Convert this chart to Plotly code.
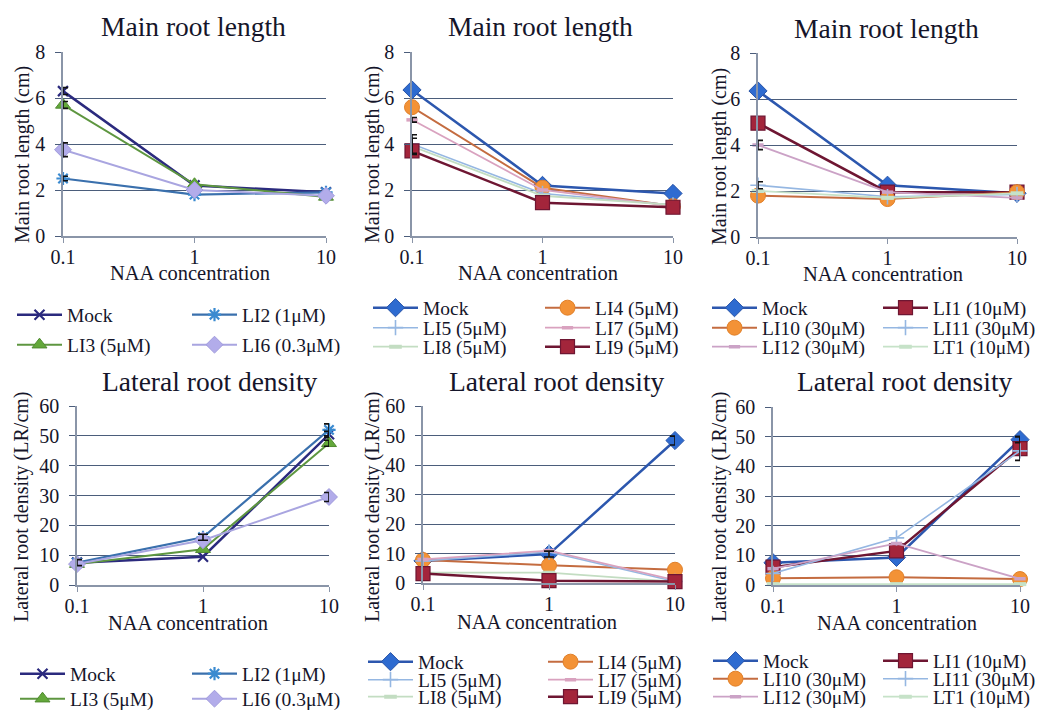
import plotly.graph_objects as go

# ---------------- data ----------------
NAA = ["0.1", "1", "10"]

SET_A = ["Mock", "LI2 (1μM)", "LI3 (5μM)", "LI6 (0.3μM)"]
SET_B = ["Mock", "LI4 (5μM)", "LI5 (5μM)", "LI7 (5μM)", "LI8 (5μM)", "LI9 (5μM)"]
SET_C = ["Mock", "LI1 (10μM)", "LI10 (30μM)", "LI11 (30μM)", "LI12 (30μM)", "LT1 (10μM)"]

# Main root length (cm) - set A
MRL_A_MOCK = [6.3, 2.2, 1.9]
MRL_A_LI2 = [2.5, 1.8, 1.9]
MRL_A_LI3 = [5.7, 2.25, 1.7]
MRL_A_LI6 = [3.75, 2.0, 1.75]
MRL_A_ERR_MOCK = [0.15, 0, 0]
MRL_A_ERR_LI2 = [0.1, 0, 0]
MRL_A_ERR_LI3 = [0.15, 0, 0]
MRL_A_ERR_LI6 = [0.3, 0, 0]

# Main root length (cm) - set B
MRL_B_MOCK = [6.35, 2.2, 1.85]
MRL_B_LI4 = [5.6, 2.1, 1.3]
MRL_B_LI5 = [4.0, 1.85, 1.35]
MRL_B_LI7 = [5.05, 2.0, 1.3]
MRL_B_LI8 = [3.9, 1.75, 1.35]
MRL_B_LI9 = [3.7, 1.45, 1.25]
MRL_B_ERR_LI5 = [0.4, 0, 0]
MRL_B_ERR_LI7 = [0.1, 0, 0]
MRL_B_ERR_LI8 = [0.35, 0, 0]

# Main root length (cm) - set C
MRL_C_MOCK = [6.35, 2.25, 1.9]
MRL_C_LI1 = [4.95, 1.95, 1.95]
MRL_C_LI10 = [1.8, 1.65, 1.95]
MRL_C_LI11 = [2.25, 1.75, 1.85]
MRL_C_LI12 = [4.0, 1.95, 1.7]
MRL_C_LT1 = [2.0, 1.7, 1.9]
MRL_C_ERR_LI11 = [0.15, 0, 0]
MRL_C_ERR_LI12 = [0.2, 0, 0]

# Lateral root density (LR/cm) - set A
LRD_A_MOCK = [7.5, 9.5, 50.5]
LRD_A_LI2 = [7.5, 16.0, 52.0]
LRD_A_LI3 = [7.0, 12.0, 47.5]
LRD_A_LI6 = [7.0, 15.0, 29.5]
LRD_A_ERR_MOCK = [0, 0, 1.0]
LRD_A_ERR_LI2 = [1.0, 1.0, 2.0]
LRD_A_ERR_LI3 = [0, 0, 1.0]
LRD_A_ERR_LI6 = [0, 0, 1.5]

# Lateral root density (LR/cm) - set B
LRD_B_MOCK = [7.5, 9.8, 48.3]
LRD_B_LI4 = [7.8, 6.0, 4.5]
LRD_B_LI5 = [7.5, 10.5, 0.5]
LRD_B_LI7 = [8.0, 11.0, 1.0]
LRD_B_LI8 = [3.5, 3.5, 0.5]
LRD_B_LI9 = [3.2, 0.8, 0.5]
LRD_B_ERR_MOCK = [0, 1.0, 1.5]

# Lateral root density (LR/cm) - set C
LRD_C_MOCK = [7.5, 9.3, 49.0]
LRD_C_LI1 = [6.0, 11.5, 46.0]
LRD_C_LI10 = [2.3, 2.6, 2.0]
LRD_C_LI11 = [3.9, 15.9, 45.2]
LRD_C_LI12 = [5.5, 14.0, 2.1]
LRD_C_LT1 = [0.3, 0.3, 0.3]
LRD_C_ERR_MOCK = [0, 0, 1.0]
LRD_C_ERR_LI1 = [0, 0, 4.0]

Y_TICKS_MRL = [0, 2, 4, 6, 8]
Y_TICKS_LRD = [0, 10, 20, 30, 40, 50, 60]

# ---------------- styles ----------------
SERIF = "Liberation Serif"
W, H = 1038, 711
GRID = "#4B5D7B"
AXIS = "#8A95A8"
TXT = "#15152A"


def fx(px):
    return px / W


def fy(py):
    return 1 - py / H


def sty(lc, lw, sym, size, fill=None, mlc=None, mlw=0):
    return dict(
        line=dict(color=lc, width=lw),
        marker=dict(symbol=sym, size=size, color=fill or lc,
                    line=dict(color=mlc or lc, width=mlw)),
    )


MOCK_A = sty("#2B2A7E", 2.5, "x-thin", 10, mlw=2.2)
LI2_S = sty("#3A70AD", 2.2, "asterisk", 11, fill="#3A8AD0", mlc="#3A8AD0", mlw=2.2)
LI3_S = sty("#5E9640", 2.0, "triangle-up", 13, fill="#63A83A", mlc="#4F8A30", mlw=1)
LI6_S = sty("#A9A5E0", 2.0, "diamond", 13, fill="#B2ACEA", mlc="#A09ADC", mlw=1)

MOCK_B = sty("#2C57AE", 2.5, "diamond", 14, fill="#2E6BD0", mlc="#2A55A8", mlw=1)
ORANGE = sty("#C46C40", 2.0, "circle", 15, fill="#F39236", mlc="#E0802A", mlw=1)
LBLUE = sty("#95B7E2", 1.6, "cross-thin", 11, mlw=1.6)
PINK = sty("#D9A2BF", 1.8, "line-ew", 8, mlw=3.5)
LGREEN = sty("#C3DDC2", 1.8, "line-ew", 9, mlw=4)
DRED = sty("#6E1632", 2.5, "square", 14, fill="#A3253B", mlc="#6E1632", mlw=1.2)
MAUVE = sty("#CBA2C6", 1.8, "line-ew", 8, mlw=3.5)
LGREEN2 = sty("#C6E2C8", 1.8, "line-ew", 9, mlw=4)

PANELS = [
    dict(k=1, names=SET_A,
         vals=[MRL_A_MOCK, MRL_A_LI2, MRL_A_LI3, MRL_A_LI6],
         errs=[MRL_A_ERR_MOCK, MRL_A_ERR_LI2, MRL_A_ERR_LI3, MRL_A_ERR_LI6],
         styles=[MOCK_A, LI2_S, LI3_S, LI6_S],
         dx=(63, 326), dy=(52, 236), yt=Y_TICKS_MRL,
         title="Main root length", tpos=(193, 27),
         ytitle="Main root length (cm)", ytpos=(22, 155), xtpos=(190, 273),
         cols=(67, 242), rows=(315, 345)),
    dict(k=2, names=SET_B,
         vals=[MRL_B_MOCK, MRL_B_LI4, MRL_B_LI5, MRL_B_LI7, MRL_B_LI8, MRL_B_LI9],
         errs=[None, None, MRL_B_ERR_LI5, MRL_B_ERR_LI7, MRL_B_ERR_LI8, None],
         styles=[MOCK_B, ORANGE, LBLUE, PINK, LGREEN, DRED],
         dx=(412, 673), dy=(52, 236), yt=Y_TICKS_MRL,
         title="Main root length", tpos=(540, 27),
         ytitle="Main root length (cm)", ytpos=(372, 155), xtpos=(538, 273),
         cols=(423, 595), rows=(308, 328, 347)),
    dict(k=3, names=SET_C,
         vals=[MRL_C_MOCK, MRL_C_LI1, MRL_C_LI10, MRL_C_LI11, MRL_C_LI12, MRL_C_LT1],
         errs=[None, None, None, MRL_C_ERR_LI11, MRL_C_ERR_LI12, None],
         styles=[MOCK_B, DRED, ORANGE, LBLUE, MAUVE, LGREEN2],
         dx=(758, 1017), dy=(53, 237), yt=Y_TICKS_MRL,
         title="Main root length", tpos=(886, 28),
         ytitle="Main root length (cm)", ytpos=(719, 157), xtpos=(883, 274),
         cols=(762, 933), rows=(308, 328, 347)),
    dict(k=4, names=SET_A,
         vals=[LRD_A_MOCK, LRD_A_LI2, LRD_A_LI3, LRD_A_LI6],
         errs=[LRD_A_ERR_MOCK, LRD_A_ERR_LI2, LRD_A_ERR_LI3, LRD_A_ERR_LI6],
         styles=[MOCK_A, LI2_S, LI3_S, LI6_S],
         dx=(77, 329), dy=(406, 585), yt=Y_TICKS_LRD,
         title="Lateral root density", tpos=(210, 382),
         ytitle="Lateral root density (LR/cm)", ytpos=(22, 507), xtpos=(188, 623),
         cols=(70, 242), rows=(674, 699)),
    dict(k=5, names=SET_B,
         vals=[LRD_B_MOCK, LRD_B_LI4, LRD_B_LI5, LRD_B_LI7, LRD_B_LI8, LRD_B_LI9],
         errs=[LRD_B_ERR_MOCK, None, None, None, None, None],
         styles=[MOCK_B, ORANGE, LBLUE, PINK, LGREEN, DRED],
         dx=(423, 675), dy=(406, 583), yt=Y_TICKS_LRD,
         title="Lateral root density", tpos=(557, 382),
         ytitle="Lateral root density (LR/cm)", ytpos=(373, 507), xtpos=(537, 622),
         cols=(418, 598), rows=(662, 680, 697)),
    dict(k=6, names=SET_C,
         vals=[LRD_C_MOCK, LRD_C_LI1, LRD_C_LI10, LRD_C_LI11, LRD_C_LI12, LRD_C_LT1],
         errs=[LRD_C_ERR_MOCK, LRD_C_ERR_LI1, None, None, None, None],
         styles=[MOCK_B, DRED, ORANGE, LBLUE, MAUVE, LGREEN2],
         dx=(773, 1020), dy=(407, 585), yt=Y_TICKS_LRD,
         title="Lateral root density", tpos=(905, 382),
         ytitle="Lateral root density (LR/cm)", ytpos=(720, 507), xtpos=(897, 623),
         cols=(763, 933), rows=(661, 679, 697)),
]

LEG_FONT = 19.5
LEG_ITEMWIDTH = 45
LEG_TEXT_OFFSET = LEG_ITEMWIDTH + 10   # text start relative to legend left edge
LEG_CENTER_OFFSET = 19.5               # item centre relative to legend top

layout = dict(
    width=W, height=H,
    margin=dict(l=0, r=0, t=0, b=0, autoexpand=False),
    paper_bgcolor="white", plot_bgcolor="white",
    font=dict(family=SERIF, color=TXT),
    showlegend=True, annotations=[],
)

fig = go.Figure()
err_traces = []
leg_n = 0
for p in PANELS:
    k = p["k"]
    xs = "" if k == 1 else str(k)
    layout["xaxis" + xs] = dict(
        domain=[fx(p["dx"][0]), fx(p["dx"][1])], anchor="y" + xs,
        type="category", categoryorder="array", categoryarray=NAA,
        range=[0, len(NAA) - 1],
        showline=True, linecolor=AXIS, linewidth=1.5,
        ticks="outside", ticklen=5, tickcolor=AXIS, tickwidth=1.2,
        ticklabelstandoff=-3,
        tickfont=dict(size=20, family=SERIF, color=TXT),
        showgrid=False, zeroline=False, fixedrange=True,
    )
    yt = p["yt"]
    layout["yaxis" + xs] = dict(
        domain=[fy(p["dy"][1]), fy(p["dy"][0])], anchor="x" + xs,
        range=[yt[0], yt[-1]], tickvals=yt,
        showline=True, linecolor=AXIS, linewidth=1.5,
        ticks="outside", ticklen=6, tickcolor=GRID, tickwidth=1.2,
        ticklabelstandoff=6,
        tickfont=dict(size=20, family=SERIF, color=TXT),
        showgrid=True, gridcolor=GRID, gridwidth=1.3, zeroline=False,
        fixedrange=True,
    )
    layout["annotations"] += [
        dict(text=p["title"], x=fx(p["tpos"][0]), y=fy(p["tpos"][1]),
             xref="paper", yref="paper", showarrow=False,
             xanchor="center", yanchor="middle",
             font=dict(size=27.5, family=SERIF, color=TXT)),
        dict(text="NAA concentration", x=fx(p["xtpos"][0]), y=fy(p["xtpos"][1]),
             xref="paper", yref="paper", showarrow=False,
             xanchor="center", yanchor="middle",
             font=dict(size=20.5, family=SERIF, color=TXT)),
        dict(text=p["ytitle"], x=fx(p["ytpos"][0]), y=fy(p["ytpos"][1]),
             xref="paper", yref="paper", showarrow=False, textangle=-90,
             xanchor="center", yanchor="middle",
             font=dict(size=20, family=SERIF, color=TXT)),
    ]
    for i, (name, vals, st) in enumerate(zip(p["names"], p["vals"], p["styles"])):
        leg_n += 1
        lid = "legend" if leg_n == 1 else "legend%d" % leg_n
        col = i % 2
        row = i // 2
        layout[lid] = dict(
            x=fx(p["cols"][col] - LEG_TEXT_OFFSET),
            y=fy(p["rows"][row] - LEG_CENTER_OFFSET),
            xanchor="left", yanchor="top", orientation="v",
            itemwidth=LEG_ITEMWIDTH,
            bgcolor="rgba(0,0,0,0)", borderwidth=0,
            font=dict(size=LEG_FONT, family=SERIF, color=TXT),
        )
        fig.add_trace(go.Scatter(
            x=NAA, y=vals, name=name, mode="lines+markers",
            line=st["line"], marker=st["marker"],
            xaxis="x" + xs, yaxis="y" + xs, legend=lid,
            cliponaxis=False, hoverinfo="skip",
        ))
        e = p["errs"][i]
        if e is not None:
            ex = [c for c, v in zip(NAA, e) if v > 0]
            ey = [y for y, v in zip(vals, e) if v > 0]
            ee = [v for v in e if v > 0]
            err_traces.append(go.Scatter(
                x=ex, y=ey, mode="markers",
                marker=dict(size=1, opacity=0),
                error_y=dict(type="data", array=ee, color="#111111",
                             thickness=1.6, width=5),
                xaxis="x" + xs, yaxis="y" + xs, showlegend=False,
                cliponaxis=False, hoverinfo="skip",
            ))

for t in err_traces:
    fig.add_trace(t)

fig.update_layout(**layout)
fig.write_html(
    "out.html",
    config={"displayModeBar": False},
    post_script="document.body.style.margin='0px';document.body.style.overflow='hidden';",
)
